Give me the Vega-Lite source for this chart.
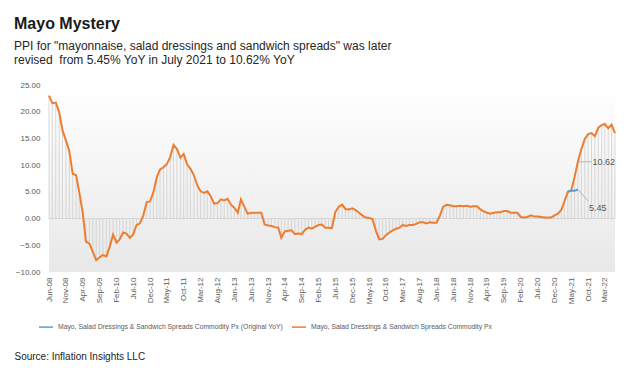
{
  "$schema": "https://vega.github.io/schema/vega-lite/v6.json",
  "width": 566,
  "height": 187,
  "autosize": {"type": "none"},
  "padding": {"left": 49, "top": 85, "right": 15, "bottom": 107},
  "background": "#ffffff",
  "title": {
    "text": "Mayo Mystery",
    "subtitle": ["PPI for \"mayonnaise, salad dressings and sandwich spreads\" was later", "revised\u00a0 from 5.45% YoY in July 2021 to 10.62% YoY"]
  },
  "config": {
    "font": "Liberation Sans",
    "axis": {"labelOverlap": false},
    "view": {"stroke": null, "fill": {"gradient": "linear", "x1": 0, "y1": 0, "x2": 0, "y2": 1, "stops": [{"offset": 0, "color": "#ffffff"}, {"offset": 1, "color": "#e8e8e8"}]}},
    "title": {"anchor": "start", "frame": "group", "dx": -35, "offset": 15, "fontSize": 16, "fontWeight": "bold", "color": "#1a1a1a", "subtitleFontSize": 12, "subtitleColor": "#262626", "subtitleLineHeight": 14, "subtitlePadding": 9, "subtitleFont": "Liberation Sans"}
  },
  "datasets": {
    "series": [
      {"date": "2008-06-01", "series": "Revised", "value": 23.0},
      {"date": "2008-07-01", "series": "Revised", "value": 21.6},
      {"date": "2008-08-01", "series": "Revised", "value": 21.7},
      {"date": "2008-09-01", "series": "Revised", "value": 19.9},
      {"date": "2008-10-01", "series": "Revised", "value": 16.5},
      {"date": "2008-11-01", "series": "Revised", "value": 14.6},
      {"date": "2008-12-01", "series": "Revised", "value": 12.7},
      {"date": "2009-01-01", "series": "Revised", "value": 8.4},
      {"date": "2009-02-01", "series": "Revised", "value": 8.1},
      {"date": "2009-03-01", "series": "Revised", "value": 5.0},
      {"date": "2009-04-01", "series": "Revised", "value": 1.2},
      {"date": "2009-05-01", "series": "Revised", "value": -4.3},
      {"date": "2009-06-01", "series": "Revised", "value": -4.7},
      {"date": "2009-07-01", "series": "Revised", "value": -6.2},
      {"date": "2009-08-01", "series": "Revised", "value": -7.8},
      {"date": "2009-09-01", "series": "Revised", "value": -7.3},
      {"date": "2009-10-01", "series": "Revised", "value": -6.8},
      {"date": "2009-11-01", "series": "Revised", "value": -7.1},
      {"date": "2009-12-01", "series": "Revised", "value": -5.3},
      {"date": "2010-01-01", "series": "Revised", "value": -3.0},
      {"date": "2010-02-01", "series": "Revised", "value": -4.5},
      {"date": "2010-03-01", "series": "Revised", "value": -3.9},
      {"date": "2010-04-01", "series": "Revised", "value": -2.6},
      {"date": "2010-05-01", "series": "Revised", "value": -2.8},
      {"date": "2010-06-01", "series": "Revised", "value": -3.6},
      {"date": "2010-07-01", "series": "Revised", "value": -3.0},
      {"date": "2010-08-01", "series": "Revised", "value": -1.2},
      {"date": "2010-09-01", "series": "Revised", "value": -0.9},
      {"date": "2010-10-01", "series": "Revised", "value": 0.6},
      {"date": "2010-11-01", "series": "Revised", "value": 3.1},
      {"date": "2010-12-01", "series": "Revised", "value": 3.2},
      {"date": "2011-01-01", "series": "Revised", "value": 5.0},
      {"date": "2011-02-01", "series": "Revised", "value": 7.8},
      {"date": "2011-03-01", "series": "Revised", "value": 9.2},
      {"date": "2011-04-01", "series": "Revised", "value": 9.6},
      {"date": "2011-05-01", "series": "Revised", "value": 10.2},
      {"date": "2011-06-01", "series": "Revised", "value": 11.5},
      {"date": "2011-07-01", "series": "Revised", "value": 13.8},
      {"date": "2011-08-01", "series": "Revised", "value": 13.0},
      {"date": "2011-09-01", "series": "Revised", "value": 11.4},
      {"date": "2011-10-01", "series": "Revised", "value": 12.1},
      {"date": "2011-11-01", "series": "Revised", "value": 10.1},
      {"date": "2011-12-01", "series": "Revised", "value": 9.3},
      {"date": "2012-01-01", "series": "Revised", "value": 8.1},
      {"date": "2012-02-01", "series": "Revised", "value": 6.2},
      {"date": "2012-03-01", "series": "Revised", "value": 5.1},
      {"date": "2012-04-01", "series": "Revised", "value": 4.8},
      {"date": "2012-05-01", "series": "Revised", "value": 5.1},
      {"date": "2012-06-01", "series": "Revised", "value": 4.2},
      {"date": "2012-07-01", "series": "Revised", "value": 2.8},
      {"date": "2012-08-01", "series": "Revised", "value": 2.9},
      {"date": "2012-09-01", "series": "Revised", "value": 3.6},
      {"date": "2012-10-01", "series": "Revised", "value": 3.4},
      {"date": "2012-11-01", "series": "Revised", "value": 3.7},
      {"date": "2012-12-01", "series": "Revised", "value": 2.6},
      {"date": "2013-01-01", "series": "Revised", "value": 2.0},
      {"date": "2013-02-01", "series": "Revised", "value": 1.1},
      {"date": "2013-03-01", "series": "Revised", "value": 3.6},
      {"date": "2013-04-01", "series": "Revised", "value": 2.2},
      {"date": "2013-05-01", "series": "Revised", "value": 0.9},
      {"date": "2013-06-01", "series": "Revised", "value": 1.1},
      {"date": "2013-07-01", "series": "Revised", "value": 1.1},
      {"date": "2013-08-01", "series": "Revised", "value": 1.1},
      {"date": "2013-09-01", "series": "Revised", "value": 1.1},
      {"date": "2013-10-01", "series": "Revised", "value": -1.1},
      {"date": "2013-11-01", "series": "Revised", "value": -1.3},
      {"date": "2013-12-01", "series": "Revised", "value": -1.4},
      {"date": "2014-01-01", "series": "Revised", "value": -1.6},
      {"date": "2014-02-01", "series": "Revised", "value": -1.7},
      {"date": "2014-03-01", "series": "Revised", "value": -3.6},
      {"date": "2014-04-01", "series": "Revised", "value": -2.4},
      {"date": "2014-05-01", "series": "Revised", "value": -2.3},
      {"date": "2014-06-01", "series": "Revised", "value": -2.2},
      {"date": "2014-07-01", "series": "Revised", "value": -2.9},
      {"date": "2014-08-01", "series": "Revised", "value": -2.8},
      {"date": "2014-09-01", "series": "Revised", "value": -2.9},
      {"date": "2014-10-01", "series": "Revised", "value": -2.1},
      {"date": "2014-11-01", "series": "Revised", "value": -1.7},
      {"date": "2014-12-01", "series": "Revised", "value": -1.9},
      {"date": "2015-01-01", "series": "Revised", "value": -1.5},
      {"date": "2015-02-01", "series": "Revised", "value": -1.2},
      {"date": "2015-03-01", "series": "Revised", "value": -1.1},
      {"date": "2015-04-01", "series": "Revised", "value": -1.7},
      {"date": "2015-05-01", "series": "Revised", "value": -1.7},
      {"date": "2015-06-01", "series": "Revised", "value": -1.8},
      {"date": "2015-07-01", "series": "Revised", "value": 1.2},
      {"date": "2015-08-01", "series": "Revised", "value": 2.2},
      {"date": "2015-09-01", "series": "Revised", "value": 2.6},
      {"date": "2015-10-01", "series": "Revised", "value": 1.8},
      {"date": "2015-11-01", "series": "Revised", "value": 1.7},
      {"date": "2015-12-01", "series": "Revised", "value": 1.9},
      {"date": "2016-01-01", "series": "Revised", "value": 1.6},
      {"date": "2016-02-01", "series": "Revised", "value": 1.1},
      {"date": "2016-03-01", "series": "Revised", "value": 0.6},
      {"date": "2016-04-01", "series": "Revised", "value": 0.2},
      {"date": "2016-05-01", "series": "Revised", "value": 0.1},
      {"date": "2016-06-01", "series": "Revised", "value": -0.1},
      {"date": "2016-07-01", "series": "Revised", "value": -2.2},
      {"date": "2016-08-01", "series": "Revised", "value": -3.9},
      {"date": "2016-09-01", "series": "Revised", "value": -3.8},
      {"date": "2016-10-01", "series": "Revised", "value": -3.1},
      {"date": "2016-11-01", "series": "Revised", "value": -2.6},
      {"date": "2016-12-01", "series": "Revised", "value": -2.2},
      {"date": "2017-01-01", "series": "Revised", "value": -1.9},
      {"date": "2017-02-01", "series": "Revised", "value": -1.7},
      {"date": "2017-03-01", "series": "Revised", "value": -1.2},
      {"date": "2017-04-01", "series": "Revised", "value": -1.4},
      {"date": "2017-05-01", "series": "Revised", "value": -1.2},
      {"date": "2017-06-01", "series": "Revised", "value": -1.2},
      {"date": "2017-07-01", "series": "Revised", "value": -1.0},
      {"date": "2017-08-01", "series": "Revised", "value": -0.7},
      {"date": "2017-09-01", "series": "Revised", "value": -0.7},
      {"date": "2017-10-01", "series": "Revised", "value": -0.9},
      {"date": "2017-11-01", "series": "Revised", "value": -0.7},
      {"date": "2017-12-01", "series": "Revised", "value": -0.8},
      {"date": "2018-01-01", "series": "Revised", "value": -0.8},
      {"date": "2018-02-01", "series": "Revised", "value": 0.6},
      {"date": "2018-03-01", "series": "Revised", "value": 2.2},
      {"date": "2018-04-01", "series": "Revised", "value": 2.6},
      {"date": "2018-05-01", "series": "Revised", "value": 2.5},
      {"date": "2018-06-01", "series": "Revised", "value": 2.3},
      {"date": "2018-07-01", "series": "Revised", "value": 2.3},
      {"date": "2018-08-01", "series": "Revised", "value": 2.4},
      {"date": "2018-09-01", "series": "Revised", "value": 2.3},
      {"date": "2018-10-01", "series": "Revised", "value": 2.4},
      {"date": "2018-11-01", "series": "Revised", "value": 2.2},
      {"date": "2018-12-01", "series": "Revised", "value": 2.3},
      {"date": "2019-01-01", "series": "Revised", "value": 2.3},
      {"date": "2019-02-01", "series": "Revised", "value": 1.7},
      {"date": "2019-03-01", "series": "Revised", "value": 1.4},
      {"date": "2019-04-01", "series": "Revised", "value": 1.1},
      {"date": "2019-05-01", "series": "Revised", "value": 0.9},
      {"date": "2019-06-01", "series": "Revised", "value": 1.1},
      {"date": "2019-07-01", "series": "Revised", "value": 1.2},
      {"date": "2019-08-01", "series": "Revised", "value": 1.2},
      {"date": "2019-09-01", "series": "Revised", "value": 1.4},
      {"date": "2019-10-01", "series": "Revised", "value": 1.4},
      {"date": "2019-11-01", "series": "Revised", "value": 1.1},
      {"date": "2019-12-01", "series": "Revised", "value": 1.1},
      {"date": "2020-01-01", "series": "Revised", "value": 1.1},
      {"date": "2020-02-01", "series": "Revised", "value": 0.3},
      {"date": "2020-03-01", "series": "Revised", "value": 0.2},
      {"date": "2020-04-01", "series": "Revised", "value": 0.3},
      {"date": "2020-05-01", "series": "Revised", "value": 0.6},
      {"date": "2020-06-01", "series": "Revised", "value": 0.4},
      {"date": "2020-07-01", "series": "Revised", "value": 0.4},
      {"date": "2020-08-01", "series": "Revised", "value": 0.3},
      {"date": "2020-09-01", "series": "Revised", "value": 0.2},
      {"date": "2020-10-01", "series": "Revised", "value": 0.2},
      {"date": "2020-11-01", "series": "Revised", "value": 0.2},
      {"date": "2020-12-01", "series": "Revised", "value": 0.6},
      {"date": "2021-01-01", "series": "Revised", "value": 0.9},
      {"date": "2021-02-01", "series": "Revised", "value": 1.6},
      {"date": "2021-03-01", "series": "Revised", "value": 3.2},
      {"date": "2021-04-01", "series": "Revised", "value": 5.0},
      {"date": "2021-05-01", "series": "Revised", "value": 5.2},
      {"date": "2021-06-01", "series": "Revised", "value": 7.8},
      {"date": "2021-07-01", "series": "Revised", "value": 10.62},
      {"date": "2021-08-01", "series": "Revised", "value": 13.0},
      {"date": "2021-09-01", "series": "Revised", "value": 14.9},
      {"date": "2021-10-01", "series": "Revised", "value": 15.8},
      {"date": "2021-11-01", "series": "Revised", "value": 16.0},
      {"date": "2021-12-01", "series": "Revised", "value": 15.4},
      {"date": "2022-01-01", "series": "Revised", "value": 17.0},
      {"date": "2022-02-01", "series": "Revised", "value": 17.5},
      {"date": "2022-03-01", "series": "Revised", "value": 17.7},
      {"date": "2022-04-01", "series": "Revised", "value": 16.9},
      {"date": "2022-05-01", "series": "Revised", "value": 17.6},
      {"date": "2022-06-01", "series": "Revised", "value": 16.0},
      {"date": "2021-04-01", "series": "Original", "value": 5.05},
      {"date": "2021-05-01", "series": "Original", "value": 5.2},
      {"date": "2021-06-01", "series": "Original", "value": 5.2},
      {"date": "2021-07-01", "series": "Original", "value": 5.45}
    ],
    "notes": [
      {"date": "2021-07-01", "value": 10.62, "date2": "2021-11-01", "value2": 10.62, "tdate": "2021-11-01", "tvalue": 10.62, "label": "10.62"},
      {"date": "2021-07-01", "value": 5.45, "date2": "2021-10-01", "value2": 3.3, "tdate": "2021-10-01", "tvalue": 2.0, "label": "5.45"}
    ]
  },
  "layer": [
    {
      "data": {"name": "series"},
      "transform": [{"filter": "datum.series === 'Revised'"}],
      "mark": {"type": "rule", "color": "#cfcfcf", "strokeWidth": 0.8},
      "encoding": {
        "x": {
          "field": "date",
          "type": "temporal",
          "scale": {"type": "utc", "domain": [{"year": 2008, "month": 6, "date": 1, "utc": true}, {"year": 2022, "month": 6, "date": 1, "utc": true}], "nice": false},
          "axis": {
            "format": "%b-%y",
            "labelAngle": 270,
            "labelFontSize": 8,
            "labelColor": "#595959",
            "labelPadding": 5,
            "labelOverlap": false,
            "tickCount": 100,
            "ticks": false,
            "domain": false,
            "grid": false,
            "title": "Source: Inflation Insights LLC",
            "titleX": -35,
            "titleY": 87,
            "titleAlign": "left",
            "titleAnchor": "start",
            "titleBaseline": "alphabetic",
            "titleFontSize": 10,
            "titleFontWeight": "normal",
            "titleColor": "#222222",
            "values": [
              {"year": 2008, "month": 6, "date": 1, "utc": true},
              {"year": 2008, "month": 11, "date": 1, "utc": true},
              {"year": 2009, "month": 4, "date": 1, "utc": true},
              {"year": 2009, "month": 9, "date": 1, "utc": true},
              {"year": 2010, "month": 2, "date": 1, "utc": true},
              {"year": 2010, "month": 7, "date": 1, "utc": true},
              {"year": 2010, "month": 12, "date": 1, "utc": true},
              {"year": 2011, "month": 5, "date": 1, "utc": true},
              {"year": 2011, "month": 10, "date": 1, "utc": true},
              {"year": 2012, "month": 3, "date": 1, "utc": true},
              {"year": 2012, "month": 8, "date": 1, "utc": true},
              {"year": 2013, "month": 1, "date": 1, "utc": true},
              {"year": 2013, "month": 6, "date": 1, "utc": true},
              {"year": 2013, "month": 11, "date": 1, "utc": true},
              {"year": 2014, "month": 4, "date": 1, "utc": true},
              {"year": 2014, "month": 9, "date": 1, "utc": true},
              {"year": 2015, "month": 2, "date": 1, "utc": true},
              {"year": 2015, "month": 7, "date": 1, "utc": true},
              {"year": 2015, "month": 12, "date": 1, "utc": true},
              {"year": 2016, "month": 5, "date": 1, "utc": true},
              {"year": 2016, "month": 10, "date": 1, "utc": true},
              {"year": 2017, "month": 3, "date": 1, "utc": true},
              {"year": 2017, "month": 8, "date": 1, "utc": true},
              {"year": 2018, "month": 1, "date": 1, "utc": true},
              {"year": 2018, "month": 6, "date": 1, "utc": true},
              {"year": 2018, "month": 11, "date": 1, "utc": true},
              {"year": 2019, "month": 4, "date": 1, "utc": true},
              {"year": 2019, "month": 9, "date": 1, "utc": true},
              {"year": 2020, "month": 2, "date": 1, "utc": true},
              {"year": 2020, "month": 7, "date": 1, "utc": true},
              {"year": 2020, "month": 12, "date": 1, "utc": true},
              {"year": 2021, "month": 5, "date": 1, "utc": true},
              {"year": 2021, "month": 10, "date": 1, "utc": true},
              {"year": 2022, "month": 3, "date": 1, "utc": true}
            ]
          }
        },
        "y": {
          "field": "value",
          "type": "quantitative",
          "scale": {"domain": [-10, 25], "nice": false},
          "axis": {
            "values": [-10, -5, 0, 5, 10, 15, 20, 25],
            "tickCount": 50,
            "format": ".2f",
            "labelFontSize": 8,
            "labelColor": "#595959",
            "labelPadding": 9,
            "labelOverlap": false,
            "ticks": false,
            "domain": false,
            "grid": false,
            "title": null
          }
        },
        "y2": {"datum": 0}
      }
    },
    {
      "data": {"values": [{"zero": 0}]},
      "mark": {"type": "rule", "color": "#d4d4d4", "strokeWidth": 1},
      "encoding": {"y": {"field": "zero", "type": "quantitative"}}
    },
    {
      "data": {"name": "series"},
      "mark": {"type": "line", "strokeWidth": 2, "interpolate": "linear"},
      "encoding": {
        "x": {"field": "date", "type": "temporal"},
        "y": {"field": "value", "type": "quantitative"},
        "color": {
          "field": "series",
          "type": "nominal",
          "scale": {"domain": ["Original", "Revised"], "range": ["#5B9BD5", "#ED7D31"]},
          "legend": {
            "title": null,
            "orient": "none",
            "legendX": -11,
            "legendY": 234,
            "direction": "horizontal",
            "symbolType": "stroke",
            "symbolSize": 196,
            "symbolStrokeWidth": 1.5,
            "labelFontSize": 6.8,
            "labelColor": "#595959",
            "labelLimit": 0,
            "labelOffset": 4,
            "columnPadding": 6,
            "labelExpr": "datum.label === 'Original' ? 'Mayo, Salad Dressings & Sandwich Spreads Commodity Px (Original YoY)' : 'Mayo, Salad Dressings & Sandwich Spreads Commodity Px'"
          }
        },
        "order": {"field": "series", "sort": "descending"}
      }
    },
    {
      "data": {"name": "notes"},
      "mark": {"type": "rule", "color": "#a6a6a6", "strokeWidth": 0.8},
      "encoding": {
        "x": {"field": "date", "type": "temporal"},
        "y": {"field": "value", "type": "quantitative"},
        "x2": {"field": "date2"},
        "y2": {"field": "value2"}
      }
    },
    {
      "data": {"name": "notes"},
      "mark": {"type": "text", "align": "left", "baseline": "middle", "dx": 1, "fontSize": 9, "color": "#595959"},
      "encoding": {
        "x": {"field": "tdate", "type": "temporal"},
        "y": {"field": "tvalue", "type": "quantitative"},
        "text": {"field": "label"}
      }
    }
  ]
}
